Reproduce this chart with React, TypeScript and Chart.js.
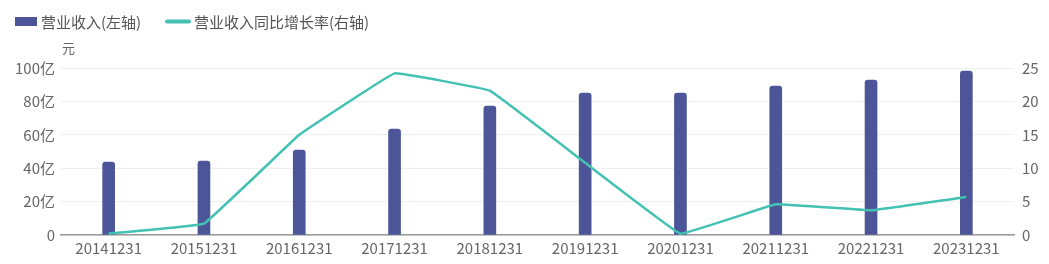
import React, { useEffect, useRef } from "react";
import { Chart, registerables } from "chart.js";

Chart.register(...registerables);

const categories = ["20141231", "20151231", "20161231", "20171231", "20181231", "20191231", "20201231", "20211231", "20221231", "20231231"];
const revenue = [43.7, 44.3, 50.9, 63.5, 77.2, 85.0, 85.0, 89.2, 92.8, 98.2];
const growth = [0.2, 1.7, 15.0, 24.2, 21.6, 10.8, 0.2, 4.6, 3.7, 5.7];
const leftTicks = [0, 20, 40, 60, 80, 100];
const rightTicks = [0, 5, 10, 15, 20, 25];
const barLabel = "营业收入(左轴)";
const lineLabel = "营业收入同比增长率(右轴)";
const unitLabel = "元";

const BAR_COLOR = "#4b5597";
const LINE_COLOR = "#43c2b3";
const FONT = "'Noto Sans CJK SC', 'Noto Sans', sans-serif";

const overlayPlugin = {
  id: "overlay",
  afterDraw(chart: any) {
    const ctx = chart.ctx;
    ctx.save();
    ctx.font = `15px ${FONT}`;
    ctx.textBaseline = "middle";
    // legend bar item
    ctx.fillStyle = BAR_COLOR;
    ctx.fillRect(15, 17, 22, 9);
    ctx.fillStyle = "#555";
    ctx.textAlign = "left";
    ctx.fillText(barLabel, 41, 22);
    // legend line item
    ctx.strokeStyle = LINE_COLOR;
    ctx.lineWidth = 4;
    ctx.lineCap = "round";
    ctx.beginPath();
    ctx.moveTo(167, 21.5);
    ctx.lineTo(189, 21.5);
    ctx.stroke();
    ctx.fillText(lineLabel, 194, 22);
    // unit
    ctx.fillStyle = "#666";
    ctx.font = `13px ${FONT}`;
    ctx.fillText(unitLabel, 62, 48);
    ctx.restore();
  },
};

export default function App() {
  const ref = useRef<HTMLCanvasElement>(null);
  useEffect(() => {
    document.body.style.margin = "0";
    const chart = new Chart(ref.current!, {
      type: "bar",
      data: {
        labels: categories,
        datasets: [
          {
            type: "line",
            label: lineLabel,
            data: growth,
            yAxisID: "y1",
            borderColor: LINE_COLOR,
            borderWidth: 2.5,
            pointRadius: 0,
            tension: 0.05,
            order: 0,
          } as any,
          {
            type: "bar",
            label: barLabel,
            data: revenue,
            yAxisID: "y",
            backgroundColor: BAR_COLOR,
            barThickness: 12,
            borderRadius: { topLeft: 3, topRight: 3, bottomLeft: 0, bottomRight: 0 },
            borderSkipped: "bottom",
            order: 1,
          } as any,
        ],
      },
      options: {
        animation: false,
        responsive: false,
        maintainAspectRatio: false,
        layout: { padding: { top: 68, left: 0, right: 0, bottom: 0 } },
        plugins: { legend: { display: false }, tooltip: { enabled: false } },
        scales: {
          x: {
            grid: { display: false, drawTicks: false },
            border: { color: "#9a9a9a", width: 1.5 },
            ticks: { color: "#666", font: { family: FONT, size: 15 }, padding: 4, maxRotation: 0, autoSkip: false },
            afterFit(axis: any) { axis.height = 29; },
          },
          y: {
            position: "left",
            min: 0,
            max: 100,
            afterBuildTicks(axis: any) { axis.ticks = leftTicks.map((v) => ({ value: v })); },
            grid: { color: "#efefef", drawTicks: false },
            border: { display: false },
            ticks: {
              color: "#666",
              font: { family: FONT, size: 15 },
              padding: 6,
              callback: (v: any) => (v === 0 ? "0" : `${v}亿`),
            },
            afterFit(axis: any) { axis.width = 61; },
          },
          y1: {
            position: "right",
            min: 0,
            max: 25,
            afterBuildTicks(axis: any) { axis.ticks = rightTicks.map((v) => ({ value: v })); },
            grid: { display: false, drawTicks: false },
            border: { display: false },
            ticks: { color: "#666", font: { family: FONT, size: 15 }, padding: 8 },
            afterFit(axis: any) { axis.width = 35; },
          },
        },
      },
      plugins: [overlayPlugin],
    } as any);
    return () => chart.destroy();
  }, []);
  return (
    <div style={{ position: "absolute", left: 0, top: 0, width: 1049, height: 264, background: "#fff" }}>
      <canvas ref={ref} width={1049} height={264} style={{ width: 1049, height: 264 }} />
    </div>
  );
}
